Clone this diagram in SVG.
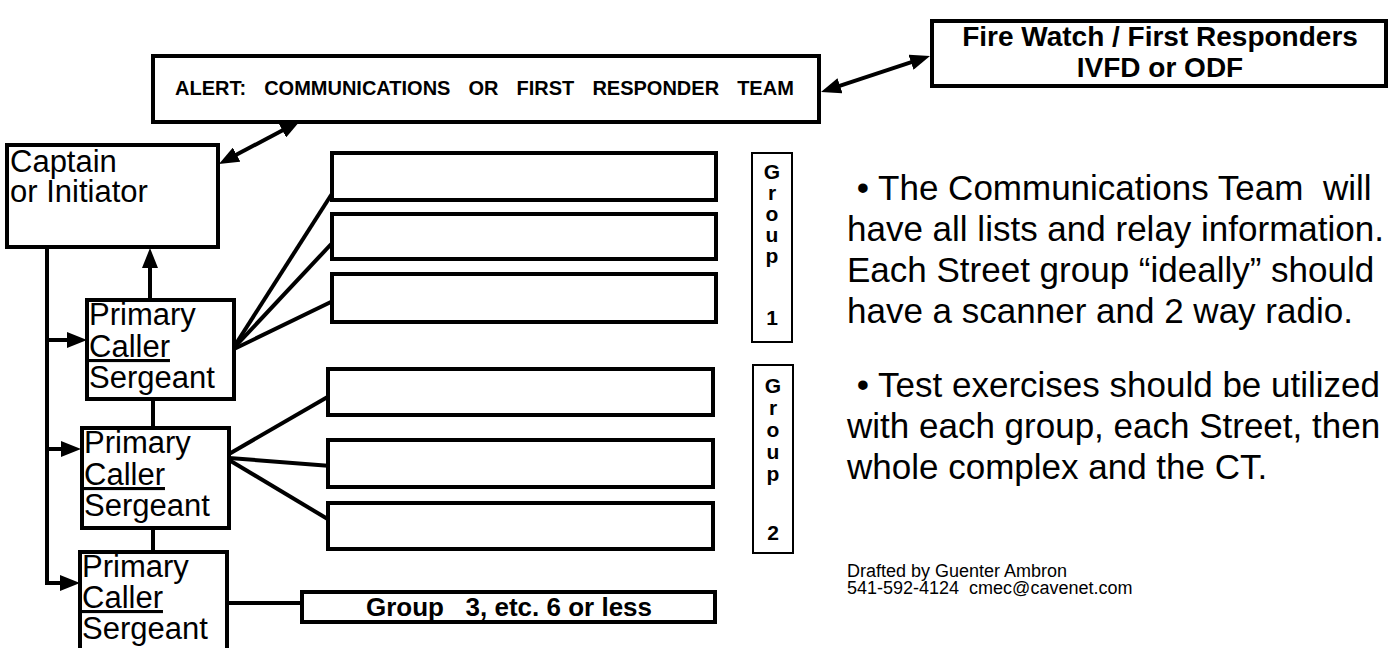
<svg xmlns="http://www.w3.org/2000/svg" width="1391" height="648" viewBox="0 0 1391 648">
<style>
text{font-family:"Liberation Sans",Arial,Helvetica,sans-serif;fill:#000}
.box{fill:#fff;stroke:#000;stroke-width:4}
.lbl{fill:#fff;stroke:#000;stroke-width:2}
.con{fill:none;stroke:#000;stroke-width:4}
.b{font-weight:bold}
.big{font-size:31px}
.gl{font-size:21px;font-weight:bold;text-anchor:middle}
.note{font-size:35px}
.u{text-decoration:underline}
</style>
<defs>
<marker id="ah" markerUnits="userSpaceOnUse" viewBox="0 0 20 16" markerWidth="20" markerHeight="16" refX="10" refY="8" orient="auto-start-reverse">
<path d="M0,0 L20,8 L0,16 Z" fill="#000"/>
</marker>
</defs>

<g id="connectors">
<line class="con" x1="830.5" y1="88.9" x2="920.5" y2="59.1" marker-start="url(#ah)" marker-end="url(#ah)"/>
<line class="con" x1="227.8" y1="159.3" x2="291.2" y2="125.7" marker-start="url(#ah)" marker-end="url(#ah)"/>
<line class="con" x1="150" y1="300" x2="150" y2="258" marker-end="url(#ah)"/>
<path class="con" d="M47,247 V583 H70" marker-end="url(#ah)"/>
<line class="con" x1="47" y1="340" x2="77" y2="340" marker-end="url(#ah)"/>
<line class="con" x1="47" y1="449" x2="71" y2="449" marker-end="url(#ah)"/>
<line class="con" x1="153" y1="399" x2="153" y2="428"/>
<line class="con" x1="153" y1="528" x2="153" y2="552"/>
<line class="con" x1="232" y1="350" x2="335" y2="189"/>
<line class="con" x1="232" y1="350" x2="335" y2="240"/>
<line class="con" x1="232" y1="350" x2="335" y2="300"/>
<line class="con" x1="229" y1="454" x2="331" y2="395"/>
<line class="con" x1="229" y1="458" x2="331" y2="466"/>
<line class="con" x1="229" y1="460" x2="331" y2="521"/>
<line class="con" x1="227" y1="603" x2="302" y2="603"/>
</g>

<g id="alert">
<rect class="box" x="153" y="56" width="666" height="66"/>
<text class="b" x="175" y="95" font-size="20" word-spacing="12.5">ALERT: COMMUNICATIONS OR FIRST RESPONDER TEAM</text>
</g>

<g id="firewatch">
<rect class="box" x="932" y="21" width="454" height="65"/>
<text class="b" font-size="28" text-anchor="middle"><tspan x="1160" y="46">Fire Watch / First Responders</tspan><tspan x="1160" y="77">IVFD or ODF</tspan></text>
</g>

<g id="captain">
<rect class="box" x="7" y="145" width="211" height="102"/>
<text class="big"><tspan x="10" y="172">Captain</tspan><tspan x="10" y="202">or Initiator</tspan></text>
</g>

<g id="sergeant1">
<rect class="box" x="87" y="300" width="147" height="99"/>
<text class="big"><tspan x="89" y="325">Primary</tspan><tspan class="u" x="89" y="357">Caller</tspan><tspan x="89" y="388">Sergeant</tspan></text>
</g>

<g id="sergeant2">
<rect class="box" x="82" y="428" width="147" height="100"/>
<text class="big"><tspan x="84" y="453">Primary</tspan><tspan class="u" x="84" y="485">Caller</tspan><tspan x="84" y="516">Sergeant</tspan></text>
</g>

<g id="sergeant3">
<rect class="box" x="80" y="552" width="147" height="110"/>
<text class="big"><tspan x="82" y="577">Primary</tspan><tspan class="u" x="82" y="608">Caller</tspan><tspan x="82" y="639">Sergeant</tspan></text>
</g>

<g id="group1-members">
<rect class="box" x="332" y="153" width="384" height="47"/>
<rect class="box" x="332" y="214" width="384" height="45"/>
<rect class="box" x="332" y="274" width="384" height="48"/>
</g>

<g id="group2-members">
<rect class="box" x="328" y="369" width="385" height="46"/>
<rect class="box" x="328" y="440" width="385" height="47"/>
<rect class="box" x="328" y="503" width="385" height="46"/>
</g>

<g id="group1-label">
<rect class="lbl" x="752" y="153" width="40" height="189"/>
<text class="gl"><tspan x="772" y="179">G</tspan><tspan x="772" y="200">r</tspan><tspan x="772" y="221">o</tspan><tspan x="772" y="242">u</tspan><tspan x="772" y="263">p</tspan><tspan x="772" y="325">1</tspan></text>
</g>

<g id="group2-label">
<rect class="lbl" x="753" y="365" width="40" height="188"/>
<text class="gl"><tspan x="773" y="393">G</tspan><tspan x="773" y="415">r</tspan><tspan x="773" y="437">o</tspan><tspan x="773" y="459">u</tspan><tspan x="773" y="481">p</tspan><tspan x="773" y="540">2</tspan></text>
</g>

<g id="group3">
<rect class="box" x="302" y="592" width="413" height="30"/>
<text class="b" x="509" y="616" font-size="26" text-anchor="middle" xml:space="preserve">Group   3, etc. 6 or less</text>
</g>

<g id="notes">
<text class="note" xml:space="preserve"><tspan x="847" y="200"> • The Communications Team  will</tspan><tspan x="847" y="241">have all lists and relay information.</tspan><tspan x="847" y="282">Each Street group “ideally” should</tspan><tspan x="847" y="323">have a scanner and 2 way radio.</tspan></text>
<text class="note" xml:space="preserve"><tspan x="847" y="397"> • Test exercises should be utilized</tspan><tspan x="847" y="438">with each group, each Street, then</tspan><tspan x="847" y="479">whole complex and the CT.</tspan></text>
<text font-size="18" xml:space="preserve"><tspan x="847" y="577">Drafted by Guenter Ambron</tspan><tspan x="847" y="594">541-592-4124  cmec@cavenet.com</tspan></text>
</g>
</svg>
